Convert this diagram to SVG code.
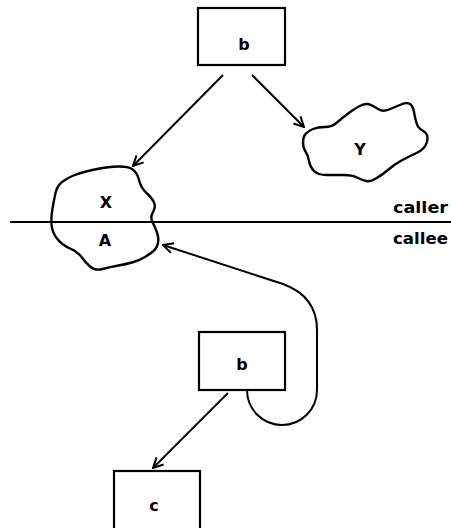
<svg xmlns="http://www.w3.org/2000/svg" width="451" height="528" viewBox="0 0 451 528">
<defs>
<style>
.box{fill:#fff;stroke:#000;stroke-width:2.2}
.cloud{fill:none;stroke:#000;stroke-width:2.4;stroke-linejoin:round}
.edge{fill:none;stroke:#000;stroke-width:2}
.lbl{font-family:"DejaVu Sans",sans-serif;font-weight:bold;font-size:16px;text-anchor:middle;fill:#000}
.side{font-family:"DejaVu Sans",sans-serif;font-weight:bold;font-size:16px;fill:#000}
</style>
<marker id="arr" viewBox="0 0 12 12" refX="11" refY="6" markerWidth="12" markerHeight="12" markerUnits="userSpaceOnUse" orient="auto">
<path d="M1,1 L11,6 L1,11" fill="none" stroke="#000" stroke-width="2"/>
</marker>
</defs>
<rect width="451" height="528" fill="#fff"/>
<g id="top-b">
<rect class="box" x="198" y="8" width="87" height="57"/>
<text class="lbl" x="244" y="50">b</text>
</g>
<g id="cloud-X">
<path class="cloud" d="M73.5,175.5 Q80,173 86,171.5 Q92,170 99.5,168.5 Q107,167 117,166.5 Q127,166 132,169 Q137,172 139,180 Q141,188 146.5,193 Q152,198 154,202.5 Q156,207 153,212 Q150,217 152.5,222 Q155,227 157,232.5 Q159,238 158,243 Q157,248 153.5,251 Q150,254 145,257 Q140,260 133.5,262 Q127,264 118.5,265.5 Q110,267 102.5,269 Q95,271 90,266.5 Q85,262 81.5,257 Q78,252 70,248.5 Q62,245 57,238.5 Q52,232 51.5,224.5 Q51,217 52.5,208.5 Q54,200 55.5,193 Q57,186 62,182 Q67,178 73.5,175.5Z"/>
<text class="lbl" x="106" y="208">X</text>
<text class="lbl" x="105" y="246">A</text>
</g>
<g id="cloud-Y">
<path class="cloud" d="M305.5,134 Q308,131 313,129 Q318,127 325,127 Q332,127 337,122.5 Q342,118 349.5,112.5 Q357,107 362,105 Q367,103 371,105 Q375,107 379,109.5 Q383,112 389,109.5 Q395,107 401,104.5 Q407,102 410,104 Q413,106 414,112 Q415,118 416.5,123 Q418,128 422.5,130.5 Q427,133 427.5,137 Q428,141 425.5,145.5 Q423,150 415.5,153.5 Q408,157 401.5,160.5 Q395,164 388.5,169.5 Q382,175 376,178.5 Q370,182 366,181 Q362,180 357,177.5 Q352,175 343.5,175 Q335,175 326.5,175 Q318,175 314,171 Q310,167 309,161 Q308,155 305.5,151.5 Q303,148 303,142.5 Q303,137 305.5,134Z"/>
<text class="lbl" x="360" y="155">Y</text>
</g>
<g id="divider">
<line x1="10" y1="222" x2="451" y2="222" stroke="#000" stroke-width="2.2"/>
<text class="side" x="393" y="213" textLength="55" lengthAdjust="spacingAndGlyphs">caller</text>
<text class="side" x="393" y="244" textLength="55" lengthAdjust="spacingAndGlyphs">callee</text>
</g>
<g id="bottom-b">
<rect class="box" x="199" y="332" width="86" height="58"/>
<text class="lbl" x="242" y="370">b</text>
</g>
<g id="box-c">
<rect class="box" x="114" y="471" width="86" height="70"/>
<text class="lbl" x="154" y="511">c</text>
</g>
<g id="connectors">
<line class="edge" x1="223" y1="75" x2="133" y2="166" marker-end="url(#arr)"/>
<line class="edge" x1="252" y1="75" x2="304" y2="127" marker-end="url(#arr)"/>
<line class="edge" x1="228" y1="393" x2="153" y2="468" marker-end="url(#arr)"/>
<path class="edge" d="M247,390 A35,35 0 0 0 317,390 L317,330 C317,306 305,292 283,284 L163,245" marker-end="url(#arr)"/>
</g>
</svg>
